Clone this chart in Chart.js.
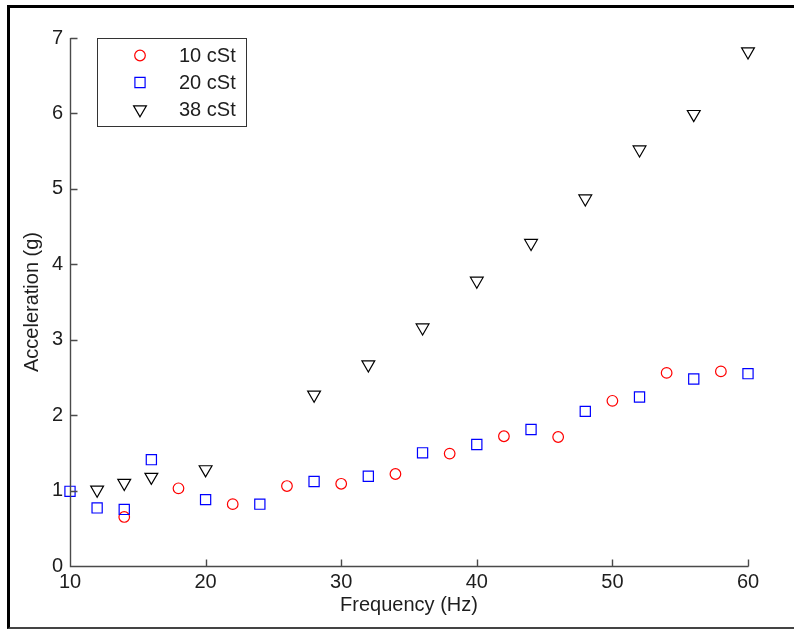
<!DOCTYPE html>
<html><head><meta charset="utf-8">
<script src="https://cdn.jsdelivr.net/npm/chart.js@4.4.1/dist/chart.umd.min.js"></script>
<style>
html,body{margin:0;padding:0;background:#fff;}
#wrap{position:relative;width:794px;height:630px;overflow:hidden;}
#frame{position:absolute;left:7px;top:5px;width:900px;height:619px;border-left:3px solid #000;border-top:3px solid #000;border-bottom:2px solid #444;pointer-events:none;}
canvas{position:absolute;left:0;top:0;}
</style></head><body>
<div id="wrap"><canvas id="c" width="794" height="630"></canvas><div id="frame"></div></div>
<script>
// ---- data ----
const seriesLabels = ['10 cSt', '20 cSt', '38 cSt'];
const freq10 = [14, 18, 22, 26, 30, 34, 38, 42, 46, 50, 54, 58];
const accel10 = [0.65, 1.03, 0.82, 1.06, 1.09, 1.22, 1.49, 1.72, 1.71, 2.19, 2.56, 2.58];
const freq20 = [10, 12, 14, 16, 20, 24, 28, 32, 36, 40, 44, 48, 52, 56, 60];
const accel20 = [0.99, 0.77, 0.75, 1.41, 0.88, 0.82, 1.12, 1.19, 1.50, 1.61, 1.81, 2.05, 2.24, 2.48, 2.55];
const freq38 = [12, 14, 16, 20, 28, 32, 36, 40, 44, 48, 52, 56, 60];
const accel38 = [1.01, 1.10, 1.18, 1.28, 2.27, 2.67, 3.16, 3.78, 4.28, 4.87, 5.52, 5.99, 6.82];
const xTicks = [10, 20, 30, 40, 50, 60];
const yTicks = [0, 1, 2, 3, 4, 5, 6, 7];
const xTitle = 'Frequency (Hz)';
const yTitle = 'Acceleration (g)';

const FONT = '"Liberation Sans", Arial, Helvetica, sans-serif';
const TEXT = '#1e1e1e';
const AXIS = '#4a4a4a';

function pts(xs, ys) { return xs.map((x, i) => ({x: x, y: ys[i]})); }

const styles = [
  {color: '#ff0000', pointStyle: 'circle', radius: 5.3, rotation: 0},
  {color: '#0000ff', pointStyle: 'rect', radius: 7.2, rotation: 0},
  {color: '#000000', pointStyle: 'triangle', radius: 7.4, rotation: 180}
];
const seriesData = [pts(freq10, accel10), pts(freq20, accel20), pts(freq38, accel38)];

const datasets = seriesData.map((d, i) => ({
  label: seriesLabels[i],
  data: d,
  showLine: false,
  clip: false,
  order: 3 - i,
  pointStyle: styles[i].pointStyle,
  pointRadius: styles[i].radius,
  pointHoverRadius: styles[i].radius,
  pointRotation: styles[i].rotation,
  pointBorderColor: styles[i].color,
  pointBackgroundColor: 'rgba(0,0,0,0)',
  pointBorderWidth: 1.2,
  borderColor: styles[i].color,
  backgroundColor: 'rgba(0,0,0,0)'
}));

function drawMarker(ctx, style, radius, rotationDeg, x, y) {
  ctx.beginPath();
  if (style === 'circle') {
    ctx.arc(x, y, radius, 0, Math.PI * 2);
  } else if (style === 'rect') {
    const s = radius * Math.SQRT1_2;
    ctx.rect(x - s, y - s, 2 * s, 2 * s);
  } else if (style === 'triangle') {
    let rad = rotationDeg * Math.PI / 180;
    ctx.moveTo(x + Math.sin(rad) * radius, y - Math.cos(rad) * radius);
    rad += 2 * Math.PI / 3;
    ctx.lineTo(x + Math.sin(rad) * radius, y - Math.cos(rad) * radius);
    rad += 2 * Math.PI / 3;
    ctx.lineTo(x + Math.sin(rad) * radius, y - Math.cos(rad) * radius);
    ctx.closePath();
  }
  ctx.stroke();
}

const matlabAxes = {
  id: 'matlabAxes',
  afterDatasetsDraw(chart) {
    const {ctx, chartArea: a} = chart;
    const xs = chart.scales.x, ys = chart.scales.y;
    ctx.save();
    // axis lines + inward ticks
    ctx.strokeStyle = AXIS;
    ctx.lineWidth = 1.4;
    ctx.beginPath();
    const L = Math.round(a.left) + 0.5, B = Math.round(a.bottom) + 0.5;
    ctx.moveTo(L, Math.round(a.top));
    ctx.lineTo(L, B);
    ctx.lineTo(Math.round(a.right) + 0.5, B);
    xs.ticks.forEach(t => {
      const px = Math.round(xs.getPixelForValue(t.value)) + 0.5;
      ctx.moveTo(px, B); ctx.lineTo(px, B - 7);
    });
    ys.ticks.forEach(t => {
      const py = Math.round(ys.getPixelForValue(t.value)) + 0.5;
      ctx.moveTo(L, py); ctx.lineTo(L + 7, py);
    });
    ctx.stroke();

    // legend box
    ctx.fillStyle = '#ffffff';
    ctx.fillRect(97, 38, 149, 88);
    ctx.strokeStyle = '#333333';
    ctx.lineWidth = 1;
    ctx.strokeRect(97.5, 38.5, 149, 88);
    ctx.font = '20px ' + FONT;
    ctx.textBaseline = 'middle';
    ctx.textAlign = 'left';
    chart.data.datasets.forEach((ds, i) => {
      const cy = 55.5 + i * 27;
      ctx.strokeStyle = ds.pointBorderColor;
      ctx.lineWidth = 1.2;
      drawMarker(ctx, ds.pointStyle, ds.pointRadius, ds.pointRotation, 140, cy);
      ctx.fillStyle = TEXT;
      ctx.fillText(ds.label, 179, cy + 1);
    });
    ctx.restore();
  }
};

new Chart(document.getElementById('c'), {
  type: 'scatter',
  data: {datasets: datasets},
  plugins: [matlabAxes],
  options: {
    responsive: false,
    animation: false,
    devicePixelRatio: 1,
    layout: {padding: {left: 0, top: 38, right: 46, bottom: 0}},
    plugins: {legend: {display: false}, tooltip: {enabled: false}},
    scales: {
      x: {
        type: 'linear',
        min: xTicks[0], max: xTicks[xTicks.length - 1],
        afterBuildTicks(s) { s.ticks = xTicks.map(v => ({value: v})); },
        grid: {display: false, drawTicks: false},
        border: {display: false},
        ticks: {padding: 4, color: TEXT, font: {family: FONT, size: 20}, maxRotation: 0, autoSkip: false},
        title: {display: true, text: xTitle, color: TEXT, font: {family: FONT, size: 20}, padding: {top: 0, bottom: 13}},
        afterFit(s) { s.height = 64; }
      },
      y: {
        type: 'linear',
        min: yTicks[0], max: yTicks[yTicks.length - 1],
        afterBuildTicks(s) { s.ticks = yTicks.map(v => ({value: v})); },
        grid: {display: false, drawTicks: false},
        border: {display: false},
        ticks: {padding: 7, color: TEXT, font: {family: FONT, size: 20}, autoSkip: false},
        title: {display: true, text: yTitle, color: TEXT, font: {family: FONT, size: 20}, padding: {top: 20, bottom: 0}},
        afterFit(s) { s.width = 70; }
      }
    }
  }
});
</script></body></html>
